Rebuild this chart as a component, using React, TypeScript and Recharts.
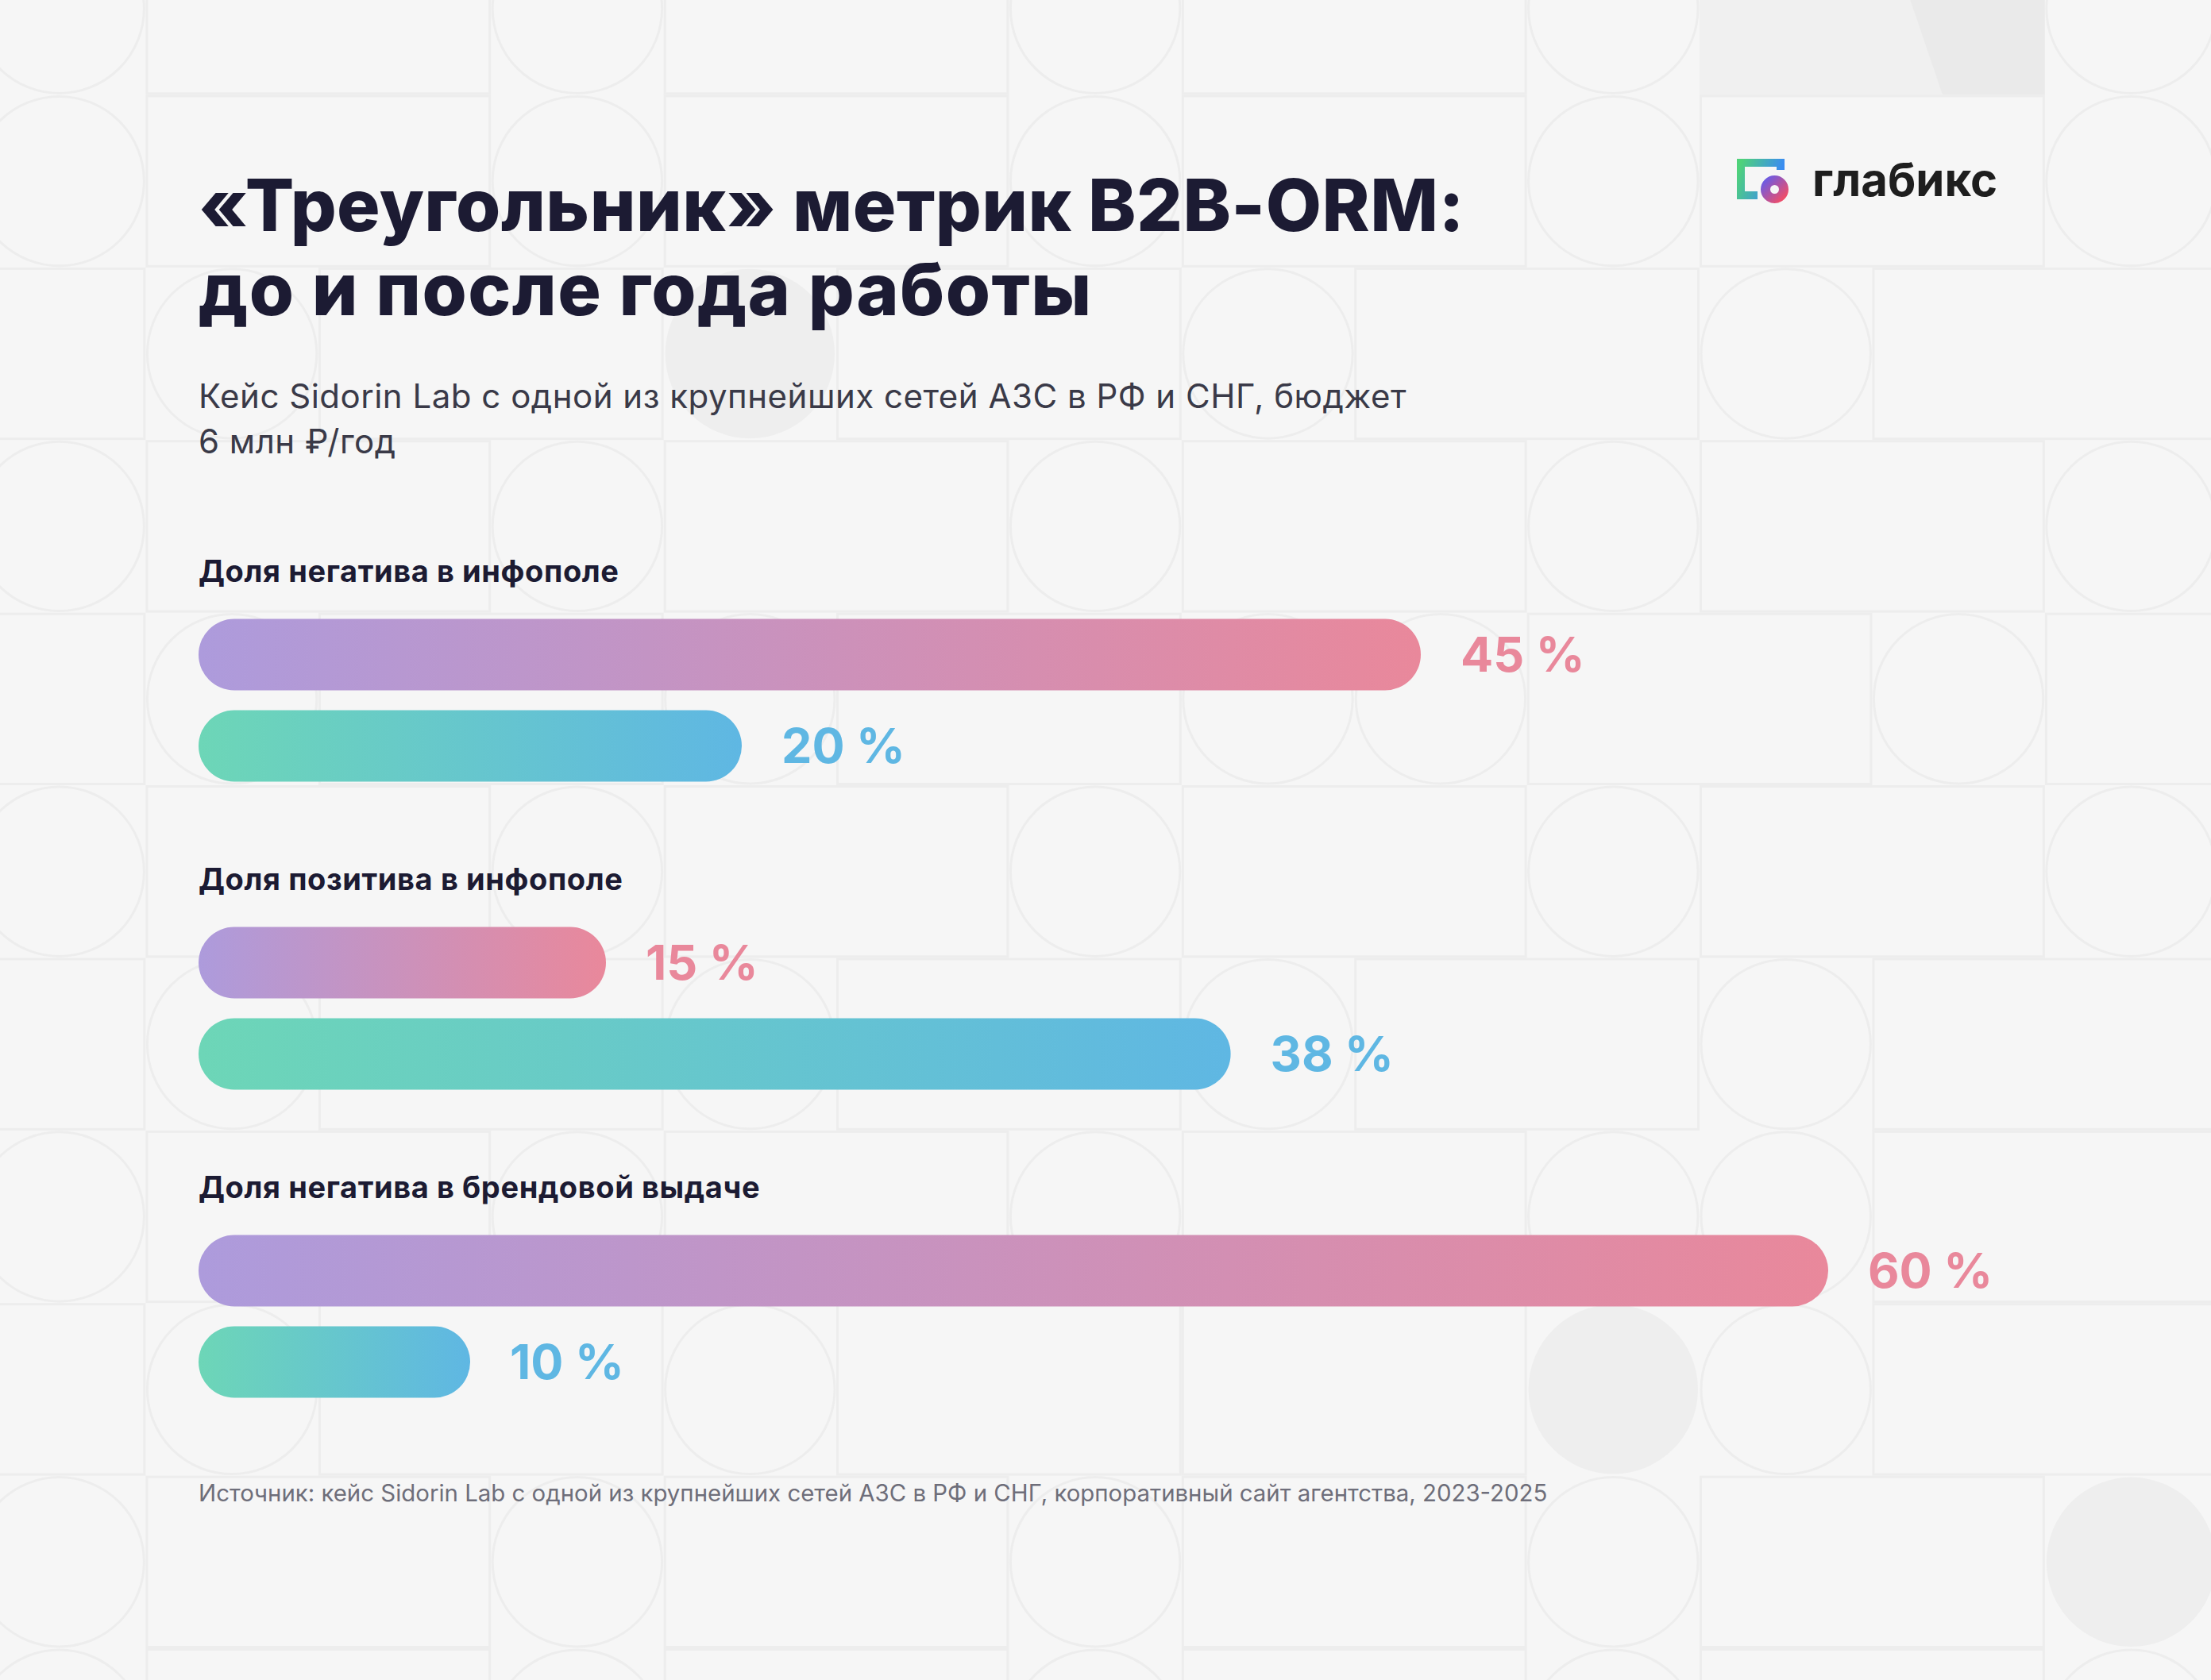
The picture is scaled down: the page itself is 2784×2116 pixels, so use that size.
import React from 'react';
import { BarChart, Bar, XAxis, YAxis, LabelList } from 'recharts';

const W = 2784;
const H = 2116;
const LEFT = 250;
const FONT = 'Inter, "Noto Sans", sans-serif';

// data
const groups = [
  'Доля негатива в инфополе',
  'Доля позитива в инфополе',
  'Доля негатива в брендовой выдаче',
];
const beforeValues = [45, 15, 60];
const afterValues = [20, 38, 10];
const xDomain = [0, 60];

const title = ['«Треугольник» метрик B2B-ORM:', 'до и после года работы'];
const titleSpacing = [0.45, 1.4];
const subtitle = [
  'Кейс Sidorin Lab с одной из крупнейших сетей АЗС в РФ и СНГ, бюджет',
  '6 млн ₽/год',
];
const source =
  'Источник: кейс Sidorin Lab с одной из крупнейших сетей АЗС в РФ и СНГ, корпоративный сайт агентства, 2023-2025';

const data = groups.map((g, i) => ({ group: g, before: beforeValues[i], after: afterValues[i] }));

// background tile layout: o circle, f filled circle, [ ] wide cell, G gray block
const bgRows = [
  'o[]o[]o[]oGGo',
  'o[]o[]o[]o[]o',
  ']o[]f[]o[]o[]',
  'o[]o[]o[]o[]o',
  ']o[]o[]oo[]o[',
  'o[]o[]o[]o[]o',
  ']o[]o[]o[]o[]',
  'o[]o[]o[]oo[]',
  ']o[]o[][]fo[]',
  'o[]o[]o[]o[]f',
  'o[]o[]o[]o[]o',
];
const CELL = 217.4;
const X0 = -34;
const Y0 = -98;

const Background = () => {
  const els: React.ReactNode[] = [];
  const line = '#ededed';
  bgRows.forEach((row, r) => {
    const y = Y0 + r * CELL;
    row.split('').forEach((ch, c) => {
      const x = X0 + c * CELL;
      const k = `${r}-${c}`;
      if (ch === 'o' || ch === 'f') {
        els.push(
          <circle key={k} cx={x + CELL / 2} cy={y + CELL / 2} r={CELL / 2 - 2}
            fill={ch === 'f' ? '#eeeeee' : 'none'} stroke={ch === 'f' ? 'none' : line} strokeWidth={3} />
        );
      } else if (ch === '[') {
        els.push(<rect key={k} x={x + 1.5} y={y + 1.5} width={CELL * 2 - 3} height={CELL - 3} fill="none" stroke={line} strokeWidth={3} />);
      } else if (ch === ']' && row[c - 1] !== '[') {
        els.push(<rect key={k} x={x - CELL + 1.5} y={y + 1.5} width={CELL * 2 - 3} height={CELL - 3} fill="none" stroke={line} strokeWidth={3} />);
      } else if (ch === 'G' && row[c - 1] !== 'G') {
        els.push(
          <g key={k}>
            <rect x={x} y={y} width={CELL * 2} height={CELL} fill="#f0f0f0" />
            <polygon points={`${x + 232},${y} ${x + CELL * 2},${y} ${x + CELL * 2},${y + CELL} ${x + 306},${y + CELL}`} fill="#eaeaea" />
          </g>
        );
      }
    });
  });
  return <g>{els}</g>;
};

const Logo = () => (
  <g>
    <defs>
      <linearGradient id="logoSq" x1="0" y1="0" x2="1" y2="0.3">
        <stop offset="0%" stopColor="#4fd27a" />
        <stop offset="100%" stopColor="#3a8cf2" />
      </linearGradient>
      <linearGradient id="logoRing" x1="0" y1="0" x2="1" y2="1">
        <stop offset="0%" stopColor="#6f5be0" />
        <stop offset="100%" stopColor="#ee4d6a" />
      </linearGradient>
    </defs>
    <path d="M2242 214 V205 H2192 V246 H2213" fill="none" stroke="url(#logoSq)" strokeWidth={10} />
    <circle cx={2234.5} cy={238.5} r={15} fill="none" stroke="#f6f6f6" strokeWidth={4} />
    <circle cx={2234.5} cy={238.5} r={11.5} fill="none" stroke="url(#logoRing)" strokeWidth={12} />
    <text x={2282} y={247} fontFamily={FONT} fontWeight={700} fontSize={58} fill="#1e1e1e">глабикс</text>
  </g>
);

// group caption drawn above the first bar of each category
const GroupLabel = (props: any) => {
  const vb = props.viewBox || props;
  return (
    <text x={LEFT} y={vb.y - 47} fontFamily={FONT} fontWeight={700} fontSize={38} letterSpacing={0.6} fill="#1c1b33">
      {props.value}
    </text>
  );
};

export default function App() {
  return (
    <div style={{ position: 'absolute', left: 0, top: 0, width: W, height: H, background: '#f6f6f6', overflow: 'hidden' }}>
      <svg width={W} height={H} style={{ position: 'absolute', left: 0, top: 0 }}>
        <Background />
        <Logo />
        {title.map((t, i) => (
          <text key={t} x={LEFT} y={291 + i * 106} fontFamily={FONT} fontWeight={800} fontSize={91} fill="#1c1b33" letterSpacing={titleSpacing[i]}>
            {t}
          </text>
        ))}
        {subtitle.map((t, i) => (
          <text key={t} x={LEFT} y={514 + i * 57} fontFamily={FONT} fontWeight={400} fontSize={42} fill="#3a3a48" letterSpacing={0.5}>
            {t}
          </text>
        ))}
        <text x={LEFT} y={1891} fontFamily={FONT} fontSize={29.4} fill="#6e6e7a">{source}</text>
      </svg>
      <div style={{ position: 'absolute', left: 0, top: 0 }}>
        <BarChart
          width={W}
          height={H}
          data={data}
          layout="vertical"
          margin={{ top: 687.5, bottom: 264.5, left: LEFT, right: 482 }}
          barSize={90}
          barGap={25}
        >
          <defs>
            <linearGradient id="gradBefore" x1="0" y1="0" x2="1" y2="0">
              <stop offset="0%" stopColor="#ad9bdc" />
              <stop offset="100%" stopColor="#e9889b" />
            </linearGradient>
            <linearGradient id="gradAfter" x1="0" y1="0" x2="1" y2="0">
              <stop offset="0%" stopColor="#6dd6b7" />
              <stop offset="100%" stopColor="#5fb7e3" />
            </linearGradient>
          </defs>
          <XAxis type="number" domain={xDomain} hide />
          <YAxis type="category" dataKey="group" width={0} hide />
          <Bar dataKey="before" fill="url(#gradBefore)" radius={45} isAnimationActive={false}>
            <LabelList dataKey="group" content={<GroupLabel />} />
            <LabelList dataKey="before" position="right" offset={50} formatter={(v: any) => `${v} %`}
              fill="#e9889b" fontSize={61} fontWeight={700} fontFamily={FONT} />
          </Bar>
          <Bar dataKey="after" fill="url(#gradAfter)" radius={45} isAnimationActive={false}>
            <LabelList dataKey="after" position="right" offset={50} formatter={(v: any) => `${v} %`}
              fill="#5fb7e3" fontSize={61} fontWeight={700} fontFamily={FONT} />
          </Bar>
        </BarChart>
      </div>
    </div>
  );
}
